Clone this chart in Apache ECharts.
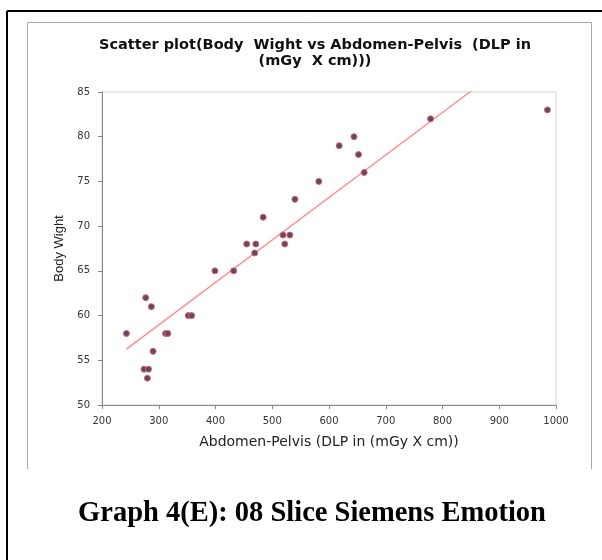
<!DOCTYPE html>
<html>
<head>
<meta charset="utf-8">
<script src="https://cdn.jsdelivr.net/npm/echarts@6/dist/echarts.min.js"></script>
<style>
html,body{margin:0;padding:0;background:#fff;}
#c{width:602px;height:560px;}
</style>
</head>
<body>
<div id="c"></div>
<script>
const dlpValues = [243,277,287,312,316,290,274,282,280,352,358,399,432,455,469,471,484,519,531,522,540,582,618,644,652,662,779,985];
const weightValues = [58,62,61,58,58,56,54,54,53,60,60,65,65,68,67,68,71,69,69,68,73,75,79,80,78,76,82,83];
const xTicks = [200,300,400,500,600,700,800,900,1000];
const yTicks = [50,55,60,65,70,75,80,85];
const titleLines = ['Scatter plot(Body  Wight vs Abdomen-Pelvis  (DLP in', '(mGy  X cm)))'];
const xAxisName = 'Abdomen-Pelvis (DLP in (mGy X cm))';
const yAxisName = 'Body Wight';
const caption = 'Graph 4(E): 08 Slice Siemens Emotion';

const points = dlpValues.map((x, i) => [x, weightValues[i]]);
// least-squares trendline
const n = dlpValues.length;
const mx = dlpValues.reduce((a, b) => a + b, 0) / n;
const my = weightValues.reduce((a, b) => a + b, 0) / n;
let sxy = 0, sxx = 0;
for (let i = 0; i < n; i++) { sxy += (dlpValues[i] - mx) * (weightValues[i] - my); sxx += (dlpValues[i] - mx) ** 2; }
const slope = sxy / sxx, intercept = my - slope * mx;
const xMin = Math.min(...dlpValues), xMax = Math.max(...dlpValues);
const trend = [[xMin, intercept + slope * xMin], [xMax, intercept + slope * xMax]];

const chart = echarts.init(document.getElementById('c'), null, {renderer: 'canvas'});
chart.setOption({
  animation: false,
  backgroundColor: '#fff',
  title: {
    text: titleLines.join('\n'),
    left: 310, top: 32, textAlign: 'center',
    textStyle: {fontFamily: 'DejaVu Sans', fontWeight: 'bold', fontSize: 14.5, color: '#111', lineHeight: 16}
  },
  grid: {left: 102, right: 46, top: 92, bottom: 155, show: true, borderColor: '#d4d4d4', borderWidth: 1, backgroundColor: 'transparent'},
  xAxis: {
    type: 'value', min: xTicks[0], max: xTicks[xTicks.length - 1], interval: 100,
    name: xAxisName, nameLocation: 'middle', nameGap: 30,
    nameTextStyle: {fontFamily: 'DejaVu Sans', fontSize: 14, color: '#222'},
    axisLine: {lineStyle: {color: '#868686', width: 1}},
    axisTick: {show: true, length: 4, lineStyle: {color: '#868686'}},
    axisLabel: {fontFamily: 'DejaVu Sans', fontSize: 10, color: '#333', margin: 11, formatter: v => String(v)},
    splitLine: {show: false}
  },
  yAxis: {
    type: 'value', min: yTicks[0], max: yTicks[yTicks.length - 1], interval: 5,
    name: yAxisName, nameLocation: 'middle', nameGap: 34, nameRotate: 90,
    nameTextStyle: {fontFamily: 'Liberation Sans', fontSize: 13, color: '#222'},
    axisLine: {show: true, lineStyle: {color: '#868686', width: 1}},
    axisTick: {show: true, length: 4, lineStyle: {color: '#868686'}},
    axisLabel: {fontFamily: 'DejaVu Sans', fontSize: 10, color: '#333', margin: 12},
    splitLine: {show: false}
  },
  series: [
    {
      type: 'line', data: trend, showSymbol: false, symbol: 'none', clip: true,
      lineStyle: {color: '#ff8a8a', width: 1.3}, z: 2, silent: true
    },
    {
      type: 'scatter', data: points, symbol: 'circle', symbolSize: 6,
      itemStyle: {color: '#5b4a68', borderColor: '#e0606a', borderWidth: 1, opacity: 1}, z: 3
    }
  ],
  graphic: [
    {type: 'line', shape: {x1: 7, y1: 11, x2: 602, y2: 11}, style: {stroke: '#000', lineWidth: 2}},
    {type: 'line', shape: {x1: 7, y1: 11, x2: 7, y2: 560}, style: {stroke: '#000', lineWidth: 2}},
    {type: 'polyline', shape: {points: [[27.5, 469], [27.5, 22.5], [591.5, 22.5], [591.5, 469]]}, style: {stroke: '#a8a8a8', lineWidth: 1, fill: null}},
    {type: 'text', x: 312, y: 499, style: {text: caption, font: 'bold 28.5px "Liberation Serif", "Times New Roman", serif', fill: '#000', textAlign: 'center', textVerticalAlign: 'top'}}
  ]
});
</script>
</body>
</html>
